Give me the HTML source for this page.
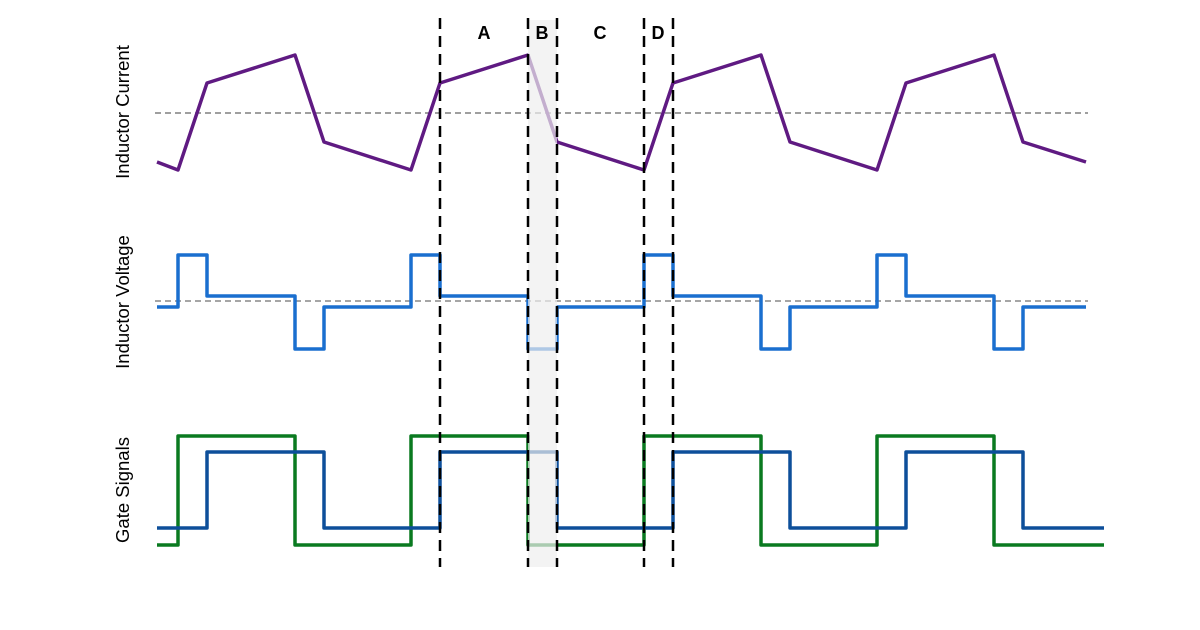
<!DOCTYPE html>
<html><head><meta charset="utf-8"><style>
html,body{margin:0;padding:0;background:#fff;}
svg{display:block;}
text{font-family:"Liberation Sans",sans-serif;}
</style></head><body>
<svg width="1200" height="630" viewBox="0 0 1200 630" xmlns="http://www.w3.org/2000/svg">
<rect width="1200" height="630" fill="#fff"/>
<line x1="155" y1="113" x2="1088" y2="113" stroke="#666" stroke-width="1.2" stroke-dasharray="6,4"/>
<line x1="155" y1="301" x2="1088" y2="301" stroke="#888" stroke-width="1.5" stroke-dasharray="6,4"/>
<g fill="none" stroke-width="3.5" stroke-linejoin="round">
<polyline stroke="#5f1a82" points="157,162 178,170 207,83 295,55 324,142 411,170 440,83 528,55 557,142 644,170 673,83 761,55 790,142 877,170 906,83 994,55 1023,142 1086,162"/>
<polyline stroke="#1a6fcf" points="157,307 178,307 178,255 207,255 207,296 295,296 295,349 324,349 324,307 411,307 411,255 440,255 440,296 528,296 528,349 557,349 557,307 644,307 644,255 673,255 673,296 761,296 761,349 790,349 790,307 877,307 877,255 906,255 906,296 994,296 994,349 1023,349 1023,307 1086,307"/>
<polyline stroke="#0a7a20" points="157,545 178,545 178,436 295,436 295,545 411,545 411,436 528,436 528,545 644,545 644,436 761,436 761,545 877,545 877,436 994,436 994,545 1104,545"/>
<polyline stroke="#0d4f9a" points="157,528 207,528 207,452 324,452 324,528 440,528 440,452 557,452 557,528 673,528 673,452 790,452 790,528 906,528 906,452 1023,452 1023,528 1104,528"/>
</g>
<rect x="528" y="20" width="29" height="547" fill="rgb(238,238,238)" fill-opacity="0.7"/>
<g stroke="#000" stroke-width="2.5" stroke-dasharray="11,7">
<line x1="440" y1="18" x2="440" y2="567"/>
<line x1="528" y1="18" x2="528" y2="567"/>
<line x1="557" y1="18" x2="557" y2="567"/>
<line x1="644" y1="18" x2="644" y2="567"/>
<line x1="673" y1="18" x2="673" y2="567"/>
</g>
<g font-size="18" font-weight="bold" text-anchor="middle" fill="#000">
<text x="484" y="39">A</text>
<text x="542" y="39">B</text>
<text x="600" y="39">C</text>
<text x="658" y="39">D</text>
</g>
<g font-size="18.5" text-anchor="middle" fill="#000">
<text transform="translate(129,112) rotate(-90)">Inductor Current</text>
<text transform="translate(129,302) rotate(-90)">Inductor Voltage</text>
<text transform="translate(129,490) rotate(-90)">Gate Signals</text>
</g>
</svg>
</body></html>
